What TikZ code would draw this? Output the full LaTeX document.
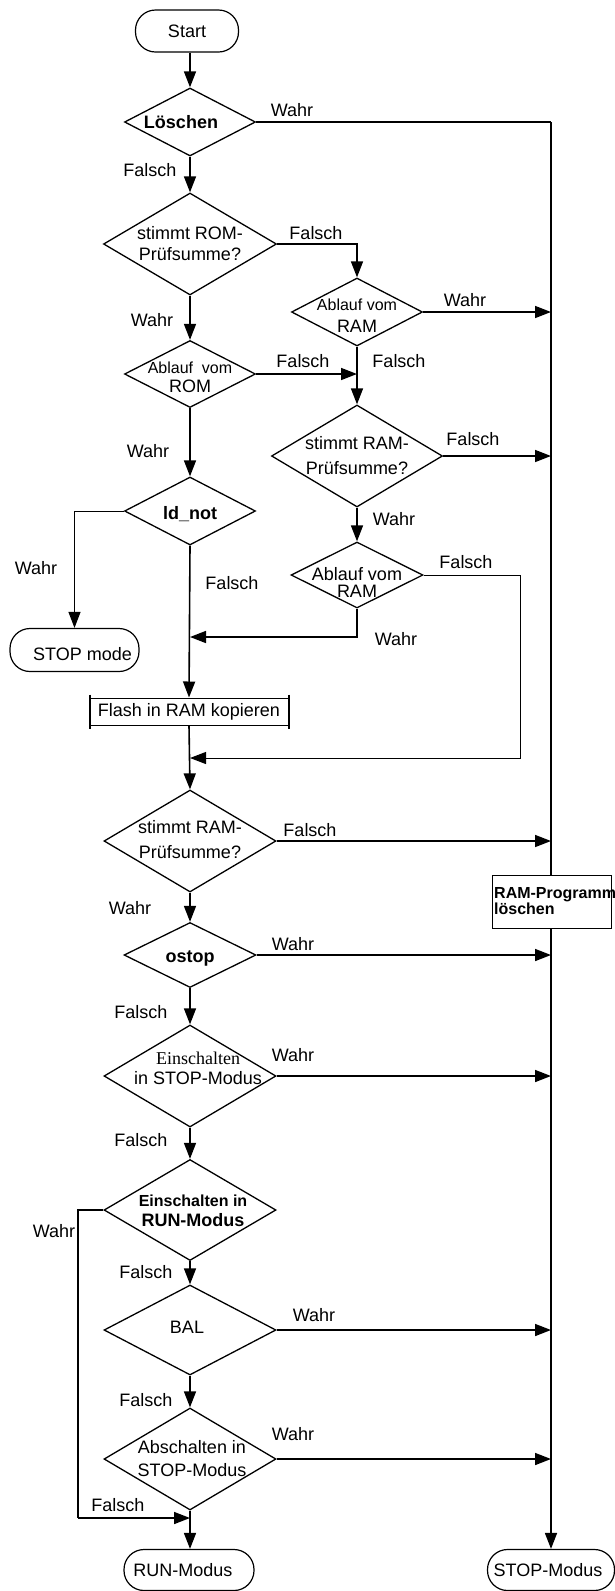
\documentclass[tikz,border=0pt]{standalone}
\usepackage{fontspec}
\setmainfont{Liberation Sans}
\newfontfamily\timesfam{Liberation Serif}
\usetikzlibrary{shapes.geometric,arrows.meta,calc}
\newcommand\fsz[2]{\fontsize{#1}{#2}\selectfont}

\begin{document}
\begin{tikzpicture}[x=1pt,y=-1pt,
  term/.style={draw, rounded corners=20pt, line width=1.2pt, inner sep=0pt, minimum height=42pt},
  dec/.style={draw, diamond, aspect=1, inner sep=0pt, line width=1.3pt},
  txt/.style={inner sep=0pt, font=\fsz{18}{22}, align=center},
  lbl/.style={inner sep=0pt, font=\fsz{18}{22}},
  flow/.style={line width=1.6pt, -{Triangle[length=16pt,width=12pt]}},
  thinflow/.style={line width=1pt, -{Triangle[length=16pt,width=12pt]}},
  wire/.style={line width=1.6pt},
]
\useasboundingbox (0,0) rectangle (615,1591);

% ---- terminals ----
\node[term, minimum width=103pt] (start) at (187,31) {};
\node[txt] (start-t) at (start) {Start};
\node[term, minimum width=129pt, minimum height=43pt] (stopm) at (74.5,650) {};
\node[txt] (stopm-t) at ([shift={(8,4)}]stopm) {STOP mode};
\node[term, minimum width=130pt, minimum height=41pt] (runm) at (189,1570) {};
\node[txt] (runm-t) at ([shift={(-6,0)}]runm) {RUN-Modus};
\node[term, minimum width=127pt, minimum height=41pt] (stopmod) at (551,1570) {};
\node[txt] (stopmod-t) at ([shift={(-3,0)}]stopmod) {STOP-Modus};

% ---- decisions, main column ----
\node[dec, minimum width=131pt, minimum height=68pt] (loe) at (190,122) {};
\node[txt, font=\bfseries\fsz{18}{22}] (loe-t) at ([shift={(-9,0)}]loe) {Löschen};

\node[dec, minimum width=173pt, minimum height=102pt] (romck) at (190,244) {};
\node[txt, font=\fsz{18}{21}] (romck-t) at (romck) {stimmt ROM-\\Prüfsumme?};

\node[dec, minimum width=131pt, minimum height=67pt] (romA) at (190,374) {};
\node[txt, font=\fsz{18}{19}] (romA-t) at ([shift={(0,3)}]romA) {{\fsz{16}{19}Ablauf\ \ vom}\\ROM};

\node[dec, minimum width=131pt, minimum height=68pt] (ldnot) at (190,511) {};
\node[txt, font=\bfseries\fsz{18}{22}] (ldnot-t) at ([shift={(0,3)}]ldnot) {ld\_not};

\node[draw, line width=1pt, minimum width=198pt, minimum height=27pt, inner sep=0pt, font=\fsz{18}{22}] (flash) at (189,711.5) {Flash in RAM kopieren};
\draw[line width=2pt] ([yshift=3pt]flash.north west) -- ([yshift=-3pt]flash.south west);
\draw[line width=2pt] ([yshift=3pt]flash.north east) -- ([yshift=-3pt]flash.south east);

\node[dec, minimum width=172pt, minimum height=102pt] (ramck2) at (190,841) {};
\node[txt, font=\fsz{18}{25}] (ramck2-t) at ([shift={(0,-1)}]ramck2) {stimmt RAM-\\Prüfsumme?};

\node[dec, minimum width=132pt, minimum height=65pt] (ostop) at (190,955) {};
\node[txt, font=\bfseries\fsz{18}{22}] (ostop-t) at ([shift={(0,3)}]ostop) {ostop};

\node[dec, minimum width=172pt, minimum height=102pt] (einstop) at (190,1076) {};
\node[txt, font=\fsz{18}{20}] (einstop-t) at ([shift={(8,-8)}]einstop) {{\timesfam Einschalten}\\in STOP-Modus};

\node[dec, minimum width=172pt, minimum height=101pt] (einrun) at (190,1210) {};
\node[txt, font=\bfseries\fsz{18}{20}] (einrun-t) at ([shift={(3,1)}]einrun) {{\fsz{16}{20}Einschalten in}\\RUN-Modus};

\node[dec, minimum width=172pt, minimum height=90pt] (bal) at (190,1330) {};
\node[txt] (bal-t) at ([shift={(-3,-3)}]bal) {BAL};

\node[dec, minimum width=172pt, minimum height=102pt] (absch) at (190,1459) {};
\node[txt, font=\fsz{18}{23}] (absch-t) at ([shift={(2,0)}]absch) {Abschalten in\\STOP-Modus};

% ---- decisions, middle column ----
\node[dec, minimum width=131pt, minimum height=68pt] (ramA) at (357,312) {};
\node[txt, font=\fsz{18}{22}] (ramA-t) at ([shift={(0,4)}]ramA) {{\fsz{16}{22}Ablauf vom}\\RAM};

\node[dec, minimum width=171pt, minimum height=102pt] (ramck1) at (357,456) {};
\node[txt, font=\fsz{18}{25}] (ramck1-t) at (ramck1) {stimmt RAM-\\Prüfsumme?};

\node[dec, minimum width=132pt, minimum height=66pt] (ramA2) at (357,575) {};
\node[txt, font=\fsz{18}{17}] (ramA2-t) at ([shift={(0,7)}]ramA2) {Ablauf vom\\RAM};

% ---- junction points ----
\coordinate (rtop) at (551,122);
\coordinate (m1) at (190,637);
\coordinate (m2) at (190,758);
\coordinate (loopR) at (520,758);
\coordinate (loopL) at (78,1518);
\coordinate (m3) at (190,1518);

% ---- connectors ----
\draw[flow] (start.south -| loe) -- (loe.north);
\draw[wire] (loe.east) -- (rtop);
\draw[flow] (rtop) -- (stopmod.north);
\draw[flow] (loe.south) -- (romck.north);
\draw[flow] (romck.east) -| (ramA.north);
\draw[flow] (ramA.east) -- (ramA.east -| rtop);
\draw[flow] (ramA.south) -- (ramck1.north);
\draw[flow] (romck.south) -- (romA.north);
\draw[flow] (romA.east) -- (romA.east -| ramA.south);
\draw[flow] (romA.south) -- (ldnot.north);
\draw[flow] (ramck1.east) -- (ramck1.east -| rtop);
\draw[flow] (ramck1.south) -- (ramA2.north);
\draw[thinflow] (ldnot.west) -| (stopm.north);
\draw[flow] (ldnot.south) -- (flash.north);
\draw[flow] (ramA2.south) |- (m1);
\draw[thinflow] (ramA2.east) -| (loopR) -- (m2);
\draw[flow] (flash.south) -- (ramck2.north);
\draw[flow] (ramck2.east) -- (ramck2.east -| rtop);
\draw[flow] (ramck2.south) -- (ostop.north);
\draw[flow] (ostop.east) -- (ostop.east -| rtop);
\draw[flow] (ostop.south) -- (einstop.north);
\draw[flow] (einstop.east) -- (einstop.east -| rtop);
\draw[flow] (einstop.south) -- (einrun.north);
\draw[wire] (einrun.west) -| (loopL);
\draw[flow] (loopL) -- (m3);
\draw[flow] (einrun.south) -- (bal.north);
\draw[flow] (bal.east) -- (bal.east -| rtop);
\draw[flow] (bal.south) -- (absch.north);
\draw[flow] (absch.east) -- (absch.east -| rtop);
\draw[flow] (absch.south) -- (absch.south |- runm.north);

% ---- box on the right line ----
\node[draw, fill=white, line width=1pt, minimum width=119pt, minimum height=53pt, inner sep=0pt] (ramdel) at (551.5,901.5) {};
\node[anchor=west, inner sep=0pt, align=left, font=\bfseries\fsz{16}{16}] (ramdel-t) at (494,901) {RAM-Programm\\löschen};

% ---- branch labels ----
\node[lbl] (l01) at (292,110) {Wahr};
\node[lbl] (l02) at (150,170) {Falsch};
\node[lbl] (l03) at (316,233) {Falsch};
\node[lbl] (l04) at (465,300) {Wahr};
\node[lbl] (l05) at (399,361) {Falsch};
\node[lbl] (l06) at (152,320) {Wahr};
\node[lbl] (l07) at (303,361) {Falsch};
\node[lbl] (l08) at (148,451) {Wahr};
\node[lbl] (l09) at (473,439) {Falsch};
\node[lbl] (l10) at (394,519) {Wahr};
\node[lbl] (l11) at (36,568) {Wahr};
\node[lbl] (l12) at (232,583) {Falsch};
\node[lbl] (l13) at (466,562) {Falsch};
\node[lbl] (l14) at (396,639) {Wahr};
\node[lbl] (l15) at (310,830) {Falsch};
\node[lbl] (l16) at (130,908) {Wahr};
\node[lbl] (l17) at (293,944) {Wahr};
\node[lbl] (l18) at (141,1012) {Falsch};
\node[lbl] (l19) at (293,1055) {Wahr};
\node[lbl] (l20) at (141,1140) {Falsch};
\node[lbl] (l21) at (54,1231) {Wahr};
\node[lbl] (l22) at (146,1272) {Falsch};
\node[lbl] (l23) at (314,1315) {Wahr};
\node[lbl] (l24) at (146,1400) {Falsch};
\node[lbl] (l25) at (293,1434) {Wahr};
\node[lbl] (l26) at (118,1505) {Falsch};
\end{tikzpicture}
\end{document}
